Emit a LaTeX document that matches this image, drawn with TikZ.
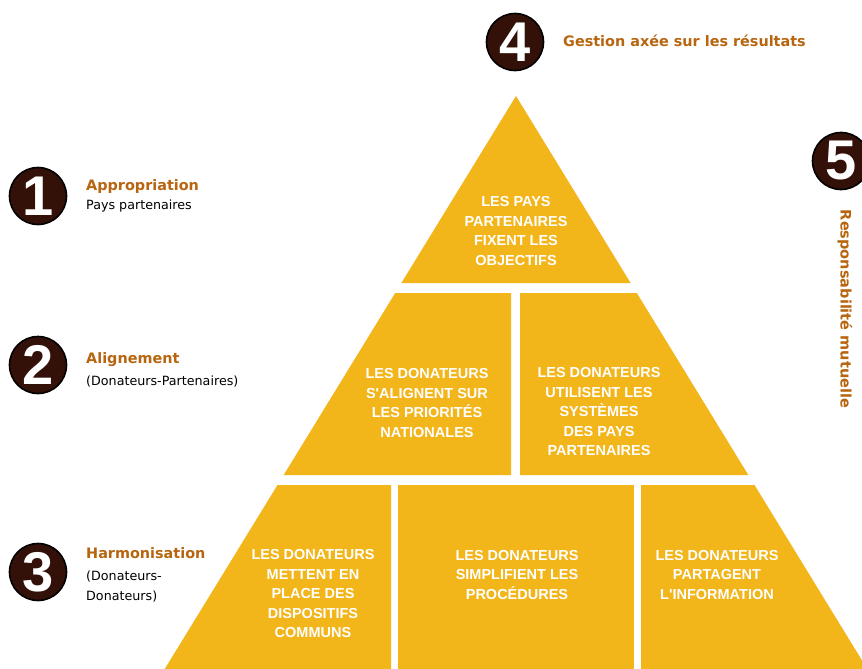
\documentclass[tikz,border=0pt]{standalone}
\usepackage{fontspec}
\setmainfont{DejaVu Sans}
\newfontfamily\boxfont{Liberation Sans}
\definecolor{pyr}{HTML}{F2B51A}
\definecolor{orng}{HTML}{B8650F}
\definecolor{dkbrown}{HTML}{331108}
\begin{document}
\begin{tikzpicture}[x=1pt,y=-1pt,
  block/.style={fill=pyr,draw=none},
  btext/.style={text=white,align=center,font=\boxfont\fontsize{14.5}{19.5}\selectfont\bfseries},
  numc/.style={circle,fill=dkbrown,draw=black,line width=1.6pt,minimum size=57pt,inner sep=0pt,text=white,font=\boxfont\fontsize{56}{56}\selectfont\bfseries},
  ttl/.style={anchor=base west,text=orng,font=\fontsize{14.4}{16}\selectfont\bfseries,inner sep=0pt},
  sub/.style={anchor=base west,text=black,font=\fontsize{12.7}{15}\selectfont,inner sep=0pt}]
\useasboundingbox (0,0) rectangle (862,669);
\clip (0,0) rectangle (862,669);
\fill[white] (0,0) rectangle (862,669);
% pyramid
\fill[block] (516,96) -- (630.6,283) -- (401.4,283) -- cycle;
\fill[block] (395.2,293) -- (511,293) -- (511,475) -- (283.7,475) -- cycle;
\fill[block] (520,293) -- (636.8,293) -- (748.3,475) -- (520,475) -- cycle;
\fill[block] (277.5,485) -- (391,485) -- (391,680) -- (158,680) -- cycle;
\fill[block] (398,485) -- (634,485) -- (634,680) -- (398,680) -- cycle;
\fill[block] (641,485) -- (754.5,485) -- (874,680) -- (641,680) -- cycle;
% box texts
\node[btext] (t1) at (516,231) {LES PAYS\\PARTENAIRES\\FIXENT LES\\OBJECTIFS};
\node[btext] (t2a) at (427,403) {LES DONATEURS\\S'ALIGNENT SUR\\LES PRIORITÉS\\NATIONALES};
\node[btext] (t2b) at (599,412) {LES DONATEURS\\UTILISENT LES\\SYSTÈMES\\DES PAYS\\PARTENAIRES};
\node[btext] (t3a) at (313,594) {LES DONATEURS\\METTENT EN\\PLACE DES\\DISPOSITIFS\\COMMUNS};
\node[btext] (t3b) at (517,575) {LES DONATEURS\\SIMPLIFIENT LES\\PROCÉDURES};
\node[btext] (t3c) at (717,575) {LES DONATEURS\\PARTAGENT\\L'INFORMATION};
% numbered circles
\node[numc] (c1) at (38,196) {1};
\node[numc] (c2) at (38,365) {2};
\node[numc] (c3) at (38,572) {3};
\node[numc] (c4) at (515,42) {4};
\node[numc] (c5) at (841,161) {5};
% labels
\node[ttl] (l1) at (86,190) {Appropriation};
\node[sub] (s1) at (86,209) {Pays partenaires};
\node[ttl] (l2) at (86,363) {Alignement};
\node[sub] (s2) at (86,385) {(Donateurs-Partenaires)};
\node[ttl] (l3) at (86,558) {Harmonisation};
\node[sub] (s3a) at (86,580) {(Donateurs-};
\node[sub] (s3b) at (86,600) {Donateurs)};
\node[ttl] (l4) at (563,47) {Gestion axée sur les résultats};
\node[rotate=-90,text=orng,font=\fontsize{14.5}{16}\selectfont\bfseries,inner sep=0pt] (l5) at (845,309) {Responsabilité mutuelle};
\end{tikzpicture}
\end{document}
